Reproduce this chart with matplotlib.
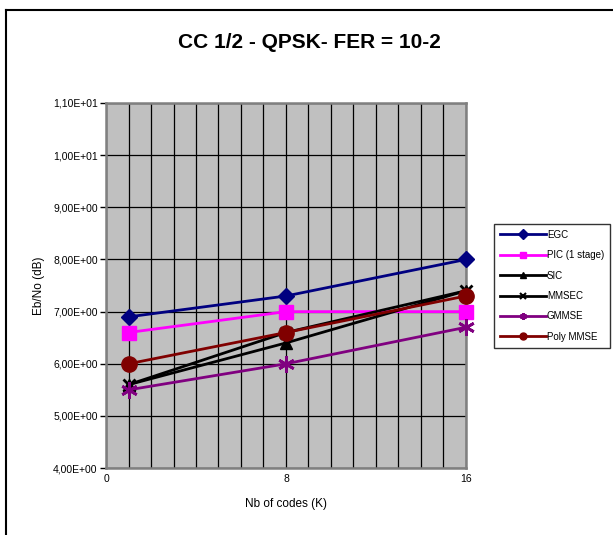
import matplotlib.pyplot as plt
from matplotlib.ticker import FuncFormatter, MultipleLocator
from matplotlib.lines import Line2D

plt.rcParams['font.family'] = ['Liberation Sans', 'DejaVu Sans']

codes = [1, 8, 16]
egc = [6.9, 7.3, 8.0]
pic = [6.6, 7.0, 7.0]
sic = [5.6, 6.4, 7.4]
mmsec = [5.6, 6.6, 7.4]
gmmse = [5.5, 6.0, 6.7]
poly_mmse = [6.0, 6.6, 7.3]

series = [
    ("EGC", egc, "#000080", "D", 8),
    ("PIC (1 stage)", pic, "#FF00FF", "s", 10),
    ("SIC", sic, "black", "^", 8),
    ("MMSEC", mmsec, "black", "x", 9),
    ("GMMSE", gmmse, "#800080", (6, 2, 0), 12),
    ("Poly MMSE", poly_mmse, "#800000", "o", 11),
]

fig = plt.figure(figsize=(6.13, 5.35), dpi=100)
ax = fig.add_axes([0.173, 0.125, 0.587, 0.6825])
ax.set_facecolor("#C0C0C0")

for name, vals, col, mk, ms in series:
    ax.plot(codes, vals, color=col, lw=2, marker=mk, markersize=ms,
            markeredgewidth=2 if mk in ("x", (6, 2, 0)) else 1,
            markeredgecolor=col, label=name, clip_on=False, zorder=3)

ax.set_xlim(0, 16)
ax.set_ylim(4, 11)
ax.xaxis.set_major_locator(MultipleLocator(8))
ax.xaxis.set_minor_locator(MultipleLocator(1))
ax.yaxis.set_major_locator(MultipleLocator(1))
ax.yaxis.set_major_formatter(FuncFormatter(
    lambda v, p: ("%.2E" % v).replace(".", ",")))
ax.grid(True, which="both", color="black", lw=0.9)
ax.set_axisbelow(True)
for s in ax.spines.values():
    s.set_color("#808080")
    s.set_linewidth(1.8)
ax.tick_params(axis="both", labelsize=7.5, length=4, width=1, pad=2)
ax.tick_params(axis="x", which="minor", length=0)
ax.tick_params(axis="x", which="major", length=0, pad=4)

ax.set_xlabel("Nb of codes (K)", fontsize=8.5, labelpad=10)
ax.set_ylabel("Eb/No (dB)", fontsize=8.5, labelpad=6)
fig.text(0.505, 1 - 42 / 535, "CC 1/2 - QPSK- FER = 10-2", ha="center",
         va="center", fontsize=15, fontweight="bold")

handles = [Line2D([], [], color=c, lw=2, marker=m, markersize=5,
                  markeredgecolor=c, markeredgewidth=1.5 if m in ("x", (6, 2, 0)) else 1)
           for _, _, c, m, _ in series]
leg = fig.legend(handles, [s[0] for s in series], loc="upper left",
                 bbox_to_anchor=(494 / 613, 1 - 224 / 535), fontsize=7,
                 frameon=True, fancybox=False, edgecolor="black",
                 handlelength=4.8, handletextpad=0.05, labelspacing=1.07,
                 borderpad=0.6, borderaxespad=0)
leg.get_frame().set_linewidth(1)

# outer chart border (top and left visible)
fig.add_artist(Line2D([6 / 613, 1], [1 - 9.5 / 535] * 2, color="black", lw=1.5))
fig.add_artist(Line2D([6 / 613] * 2, [0, 1 - 9.5 / 535], color="black", lw=1.5))

fig.savefig("out.png", dpi=100)
